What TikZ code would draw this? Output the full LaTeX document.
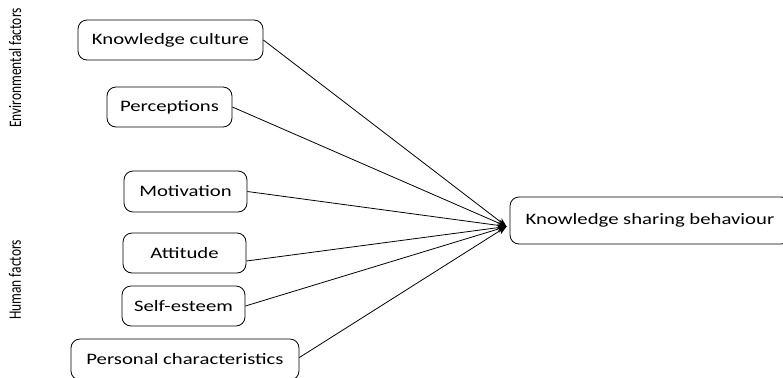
\documentclass[tikz,border=0pt]{standalone}
\usepackage{fontspec}
\setmainfont{Carlito}
\usetikzlibrary{arrows.meta,calc}
\begin{document}
\begin{tikzpicture}[x=1bp,y=-1bp,
  box/.style={draw,line width=0.8bp,rounded corners=9bp,inner sep=0pt,
    font=\fontsize{16}{19}\selectfont},
  side/.style={rotate=90,inner sep=0pt,font=\fontsize{13.5}{15}\selectfont},
  link/.style={line width=0.8bp,-{Stealth[length=9bp,width=7bp]}}]
\useasboundingbox (0,0) rectangle (783,377);
\clip (0,0) rectangle (783,377);
\node[side] (env) at (15,68) {\scalebox{1}[1.3]{Environmental factors}};
\node[side] (hum) at (15,280) {\scalebox{1}[1.3]{Human factors}};
\node[box,minimum width=185bp,minimum height=40bp] (kc) at (170.5,40) {\scalebox{1.3}[1]{Knowledge culture}};
\node[box,minimum width=125bp,minimum height=40bp] (per) at (169.5,107) {\scalebox{1.3}[1]{Perceptions}};
\node[box,minimum width=123bp,minimum height=41bp] (mot) at (185.5,191.5) {\scalebox{1.3}[1]{Motivation}};
\node[box,minimum width=123bp,minimum height=40bp] (att) at (184.5,253) {\scalebox{1.3}[1]{Attitude}};
\node[box,minimum width=123bp,minimum height=40bp] (se) at (183.5,306) {\scalebox{1.3}[1]{Self-esteem}};
\node[box,minimum width=228bp,minimum height=41bp] (pc) at (185,359.5) {\scalebox{1.3}[1]{Personal characteristics}};
\node[box,minimum width=280bp,minimum height=47bp] (ksb) at (650,220.5) {\scalebox{1.3}[1]{Knowledge sharing behaviour}};
\coordinate (tip) at ($(ksb.west)+(-3,6)$);
\draw[link] (kc.east) -- (tip);
\draw[link] (per.east) -- (tip);
\draw[link] (mot.east) -- (tip);
\draw[link] ($(att.east)+(0,8)$) -- (tip);
\draw[link] (se.east) -- (tip);
\draw[link] ($(pc.east)+(0,-2)$) -- (tip);
\end{tikzpicture}
\end{document}
